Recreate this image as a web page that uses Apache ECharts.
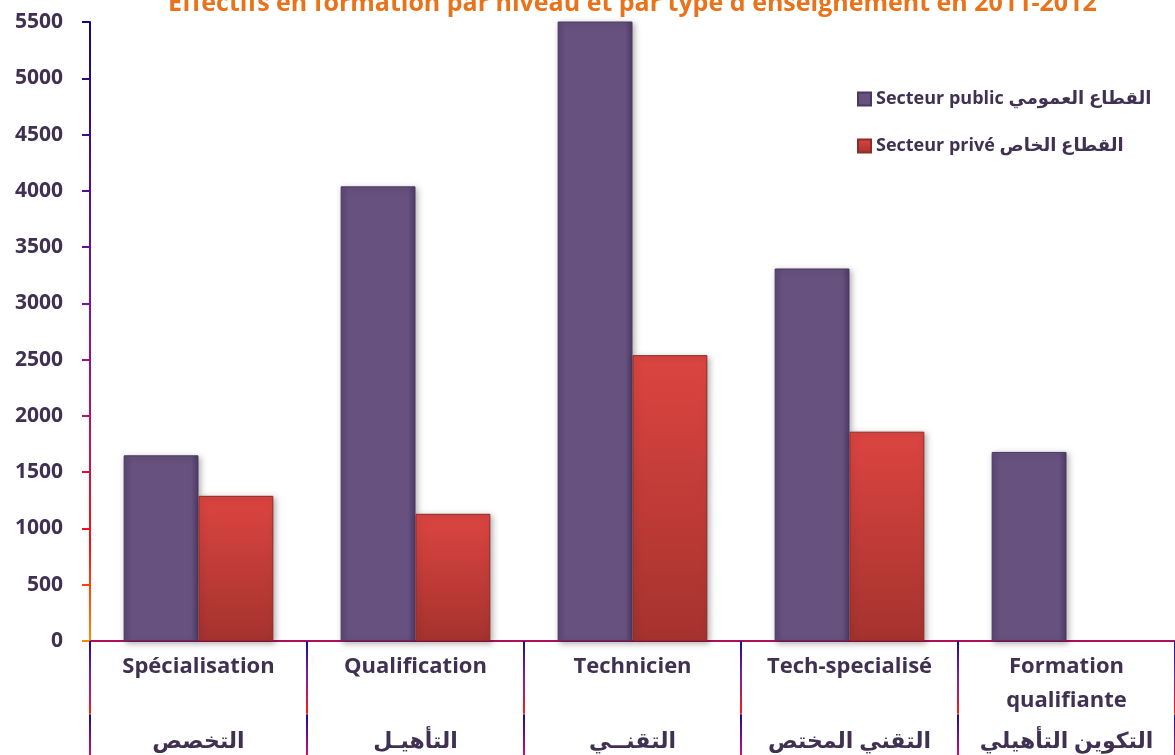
<!DOCTYPE html>
<html>
<head>
<meta charset="utf-8">
<script src="https://cdn.jsdelivr.net/npm/echarts@6/dist/echarts.min.js"></script>
<style>
  html, body { margin: 0; padding: 0; background: #fff; }
  #chart { width: 1175px; height: 755px; }
</style>
</head>
<body>
<div id="chart"></div>
<script>
// data
const categoriesFr = ['Spécialisation', 'Qualification', 'Technicien', 'Tech-specialisé', 'Formation\nqualifiante'];
const categoriesAr = ['التخصص', 'التأهيـل', 'التقنــي', 'التقني المختص', 'التكوين التأهيلي'];
const publicValues = [1650, 4040, 5650, 3310, 1680];
const priveValues = [1290, 1130, 2540, 1860, null];
const seriesNames = ['Secteur public القطاع العمومي', 'Secteur privé القطاع الخاص'];
const yTicks = [0, 500, 1000, 1500, 2000, 2500, 3000, 3500, 4000, 4500, 5000, 5500];

const textColor = '#403152';
const fontFam = '"Open Sans", "DejaVu Sans", sans-serif';

const chart = echarts.init(document.getElementById('chart'));

const yLineGrad = new echarts.graphic.LinearGradient(0, 22, 0, 641, [
    { offset: 0, color: '#12087e' },
    { offset: 0.45, color: '#7a12a8' },
    { offset: 0.85, color: '#ff1010' },
    { offset: 1, color: '#ff8a00' }
], true);

const xTickGrad = new echarts.graphic.LinearGradient(0, 641, 0, 755, [
    { offset: 0, color: '#1a0a9a' },
    { offset: 0.3, color: '#7a1fa0' },
    { offset: 0.63, color: '#ff1a1a' },
    { offset: 0.64, color: '#ff8a00' },
    { offset: 0.65, color: '#1a0a9a' },
    { offset: 1, color: '#d0106a' }
], true);

chart.setOption({
    animation: false,
    title: {
        text: "Effectifs en formation par niveau et par type d'enseignement en 2011-2012",
        left: 163,
        top: -14,
        textStyle: { color: '#E8731A', fontSize: 25, fontWeight: 'bold', fontFamily: fontFam }
    },
    legend: {
        orient: 'vertical',
        left: 852,
        top: 85,
        itemGap: 29,
        itemWidth: 13,
        itemHeight: 13,
        icon: 'rect',
        textStyle: { color: textColor, fontSize: 18, fontWeight: 'bold', fontFamily: fontFam }
    },
    grid: { left: 90, right: -1, top: 22, bottom: 114, containLabel: false },
    xAxis: {
        type: 'category',
        data: categoriesFr,
        axisLine: { lineStyle: { color: '#b0105a', width: 2 } },
        axisTick: { show: true, length: 114, lineStyle: { color: xTickGrad, width: 2 } },
        axisLabel: {
            interval: 0,
            margin: 9,
            formatter: function (v, i) {
                const fr = v.split('\n').map(s => '{fr|' + s + '}');
                if (fr.length === 1) fr.push('{fr| }');
                return fr.join('\n') + '\n{ar|' + categoriesAr[i] + '}';
            },
            rich: {
                fr: { color: textColor, fontSize: 22, fontWeight: 'bold', fontFamily: fontFam, lineHeight: 34 },
                ar: { color: textColor, fontSize: 22, fontWeight: 'bold', fontFamily: fontFam, lineHeight: 48 }
            }
        }
    },
    yAxis: {
        type: 'value',
        min: 0,
        max: 5500,
        interval: 500,
        splitLine: { show: false },
        axisLine: { show: true, lineStyle: { color: yLineGrad, width: 2 } },
        axisTick: { show: true, length: 8, lineStyle: { color: yLineGrad, width: 2 } },
        axisLabel: {
            margin: 27,
            color: textColor,
            fontSize: 21,
            fontWeight: 'bold',
            fontFamily: fontFam,
            formatter: v => yTicks.includes(v) ? String(v) : ''
        }
    },
    series: [
        {
            name: seriesNames[0],
            type: 'bar',
            data: publicValues,
            barGap: '0%',
            barCategoryGap: '31%',
            itemStyle: {
                color: new echarts.graphic.LinearGradient(0, 0, 1, 0, [
                    { offset: 0, color: '#5c4776' },
                    { offset: 0.1, color: '#67517f' },
                    { offset: 0.9, color: '#67517f' },
                    { offset: 1, color: '#4e3c66' }
                ]),
                borderColor: '#4a3862',
                borderWidth: 1,
                shadowBlur: 6,
                shadowColor: 'rgba(0,0,0,0.3)',
                shadowOffsetX: 2,
                shadowOffsetY: 2
            }
        },
        {
            name: seriesNames[1],
            type: 'bar',
            data: priveValues,
            itemStyle: {
                color: new echarts.graphic.LinearGradient(0, 0, 0, 1, [
                    { offset: 0, color: '#dc4540' },
                    { offset: 1, color: '#a5322e' }
                ]),
                borderColor: '#8e2b28',
                borderWidth: 1,
                shadowBlur: 6,
                shadowColor: 'rgba(0,0,0,0.3)',
                shadowOffsetX: 2,
                shadowOffsetY: 2
            }
        }
    ]
});
</script>
</body>
</html>
